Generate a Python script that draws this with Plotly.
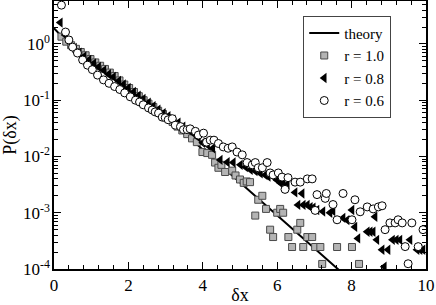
import plotly.graph_objects as go

# theory curve
theory_x = [0.0, 0.2, 0.4, 0.6, 0.8, 1.0, 1.3, 1.6, 2.0, 2.4, 2.8, 3.2, 3.6, 4.0, 4.5, 5.0, 5.5, 6.0, 6.5, 7.0, 7.5, 7.8]
theory_logp = [0.28, 0.14, 0.02, -0.09, -0.19, -0.29, -0.43, -0.57, -0.78, -0.99, -1.19, -1.41, -1.63, -1.88, -2.17, -2.46, -2.76, -3.05, -3.34, -3.63, -3.92, -4.10]

# r = 1.0 (squares)
r10_x = [0.20, 0.33, 0.46, 0.59, 0.72, 0.85, 0.98, 1.11, 1.24, 1.37, 1.50, 1.63, 1.76, 1.89, 2.02, 2.15, 2.28, 2.41, 2.54, 2.67, 2.80, 2.93, 3.06, 3.19, 3.32, 3.45, 3.58, 3.71, 3.84, 3.99, 4.12, 4.25, 4.33, 4.42, 4.50, 4.60, 4.79, 4.88, 5.00, 5.10, 5.18, 5.27, 5.41, 5.49, 5.60, 5.70, 5.81, 5.89, 6.00, 6.08, 6.16, 6.30, 6.40, 6.54, 6.62, 6.70, 6.81, 6.94, 7.02, 7.16, 7.21, 7.61, 8.01, 8.20]
r10_p = [1.35, 1.10, 0.95, 0.82, 0.72, 0.63, 0.54, 0.47, 0.41, 0.36, 0.31, 0.27, 0.225, 0.19, 0.165, 0.14, 0.118, 0.10, 0.087, 0.076, 0.065, 0.057, 0.048, 0.041, 0.034, 0.029, 0.025, 0.021, 0.018, 0.012, 0.0115, 0.0107, 0.0078, 0.0063, 0.0071, 0.0053, 0.0056, 0.0046, 0.0039, 0.0034, 0.0036, 0.0035, 0.00089, 0.0017, 0.0020, 0.00117, 0.0005, 0.00037, 0.0010, 0.00117, 0.0010, 0.00037, 0.000246, 0.0005, 0.00066, 0.000246, 0.00037, 0.00037, 0.000246, 0.000246, 0.000123, 0.000246, 0.000246, 0.000123]

# r = 0.8 (left triangles)
r08_x = [0.17, 0.30, 0.42, 0.55, 0.68, 0.81, 0.94, 1.07, 1.20, 1.34, 1.47, 1.60, 1.74, 1.87, 2.00, 2.14, 2.27, 2.40, 2.54, 2.67, 2.80, 2.94, 3.07, 3.20, 3.34, 3.47, 3.60, 3.74, 3.87, 4.00, 4.13, 4.27, 4.47, 4.66, 4.82, 5.01, 5.15, 5.28, 5.41, 5.55, 5.68, 5.76, 5.89, 6.00, 6.08, 6.16, 6.27, 6.48, 6.56, 6.67, 6.70, 6.81, 6.89, 6.97, 7.07, 7.23, 7.42, 7.50, 7.77, 7.88, 8.01, 8.09, 8.17, 8.42, 8.50, 8.58, 8.63, 8.68, 8.82, 8.88, 8.98, 9.10, 9.20, 9.30, 9.57, 9.76, 9.84, 9.92]
r08_p = [2.4, 1.45, 1.10, 0.85, 0.70, 0.60, 0.52, 0.45, 0.39, 0.34, 0.29, 0.26, 0.22, 0.19, 0.165, 0.140, 0.120, 0.105, 0.090, 0.078, 0.068, 0.059, 0.052, 0.045, 0.040, 0.034, 0.030, 0.026, 0.022, 0.0175, 0.0160, 0.0140, 0.0087, 0.0079, 0.0078, 0.0071, 0.0065, 0.0058, 0.0055, 0.0050, 0.0047, 0.0044, 0.0044, 0.0038, 0.0034, 0.0034, 0.0032, 0.0023, 0.00138, 0.0022, 0.00138, 0.00138, 0.00126, 0.00123, 0.00112, 0.00105, 0.0010, 0.00107, 0.00081, 0.00074, 0.00112, 0.00056, 0.00035, 0.00046, 0.00046, 0.00046, 0.00085, 0.00033, 0.00022, 0.00011, 0.00022, 0.00033, 0.00033, 0.00033, 0.00033, 0.00022, 0.00022, 0.00022]

# r = 0.6 (open circles)
r06_x = [0.20, 0.31, 0.40, 0.50, 0.63, 0.77, 0.90, 1.03, 1.17, 1.33, 1.48, 1.63, 1.77, 1.90, 2.05, 2.19, 2.30, 2.40, 2.54, 2.64, 2.72, 2.81, 2.91, 2.99, 3.07, 3.18, 3.26, 3.40, 3.48, 3.58, 3.66, 3.80, 3.88, 4.02, 4.10, 4.20, 4.30, 4.42, 4.55, 4.68, 4.79, 4.92, 5.06, 5.19, 5.33, 5.41, 5.49, 5.60, 5.73, 5.81, 5.89, 6.03, 6.13, 6.21, 6.29, 6.48, 6.62, 6.81, 6.94, 7.02, 7.07, 7.29, 7.32, 7.50, 7.61, 7.77, 8.01, 8.09, 8.23, 8.42, 8.58, 8.72, 8.82, 8.90, 9.03, 9.17, 9.25, 9.36, 9.44, 9.52, 9.62, 9.79, 9.92]
r06_p = [4.9, 1.63, 1.18, 0.88, 0.69, 0.52, 0.42, 0.35, 0.28, 0.23, 0.20, 0.175, 0.155, 0.135, 0.115, 0.100, 0.093, 0.083, 0.073, 0.067, 0.062, 0.059, 0.050, 0.049, 0.045, 0.047, 0.036, 0.034, 0.030, 0.030, 0.031, 0.028, 0.024, 0.026, 0.018, 0.0195, 0.0195, 0.017, 0.0148, 0.014, 0.0148, 0.012, 0.0107, 0.0078, 0.0071, 0.0078, 0.0063, 0.0063, 0.0078, 0.0051, 0.0047, 0.0051, 0.0043, 0.0026, 0.0042, 0.0035, 0.0035, 0.0040, 0.0040, 0.0011, 0.0021, 0.0018, 0.0022, 0.0014, 0.00075, 0.0022, 0.00075, 0.0017, 0.00104, 0.00127, 0.00117, 0.00127, 0.00133, 0.0005, 0.00066, 0.00066, 0.00075, 0.00066, 0.00025, 0.000124, 0.00066, 0.00025, 0.0005]

y_tickvals = [1e-4, 1e-3, 1e-2, 1e-1, 1]
y_ticktext = ["10<sup>-4</sup>", "10<sup>-3</sup>", "10<sup>-2</sup>", "10<sup>-1</sup>", "10<sup>0</sup>"]
y_minor = [m * 10.0 ** e for e in range(-4, 1) for m in range(2, 10) if m * 10.0 ** e < 5.8]
x_tickvals = [0, 2, 4, 6, 8, 10]
x_ticktext = ["0", "2", "4", "6", "8", "10"]

FONT = "Liberation Serif, Times New Roman, Times, serif"

fig = go.Figure()
fig.add_trace(go.Scatter(x=theory_x, y=[10 ** v for v in theory_logp], mode="lines",
                         line=dict(color="black", width=2), name="theory"))
fig.add_trace(go.Scatter(x=r10_x, y=r10_p, mode="markers", name="r = 1.0",
                         marker=dict(symbol="square", size=7, color="#b4b4b4",
                                     line=dict(color="#4a4a4a", width=1))))
fig.add_trace(go.Scatter(x=r08_x, y=r08_p, mode="markers", name="r = 0.8",
                         marker=dict(symbol="triangle-left", size=9, color="black",
                                     line=dict(width=0))))
fig.add_trace(go.Scatter(x=r06_x, y=r06_p, mode="markers", name="r = 0.6",
                         marker=dict(symbol="circle", size=8, color="white",
                                     line=dict(color="black", width=1))))

axis_common = dict(showline=True, linecolor="black", linewidth=1.5, mirror="ticks",
                   ticks="inside", ticklen=7, tickwidth=1, tickcolor="black",
                   showgrid=False, zeroline=False, automargin=False,
                   tickfont=dict(family=FONT, size=17, color="black"))

fig.update_xaxes(range=[0, 10], tickmode="array", tickvals=x_tickvals, ticktext=x_ticktext,
                 minor=dict(ticks="inside", ticklen=4, tickmode="linear", tick0=0, dtick=0.4,
                            tickcolor="black", showgrid=False),
                 title=dict(text="δx", font=dict(family=FONT, size=18, color="black"), standoff=0),
                 **axis_common)
fig.update_yaxes(type="log", range=[-4, 0.764], tickmode="array", tickvals=y_tickvals, ticktext=y_ticktext,
                 minor=dict(ticks="inside", ticklen=4, tickmode="array", tickvals=y_minor,
                            tickcolor="black", showgrid=False),
                 ticklabelstandoff=-1,
                 title=dict(text="P(δx)", font=dict(family=FONT, size=18, color="black"), standoff=5),
                 **axis_common)

fig.update_layout(
    width=436, height=305,
    margin=dict(l=54, r=10, t=1, b=36),
    paper_bgcolor="white", plot_bgcolor="white",
    font=dict(family=FONT, color="black"),
    legend=dict(x=0.67, y=0.945, xanchor="left", yanchor="top",
                bgcolor="white", bordercolor="#444444", borderwidth=1,
                font=dict(family=FONT, size=15, color="black"),
                itemwidth=30, tracegroupgap=0),
    showlegend=True,
)

fig.write_html("out.html", config={"displayModeBar": False},
               post_script="document.body.style.margin='0';document.body.style.overflow='hidden';")
